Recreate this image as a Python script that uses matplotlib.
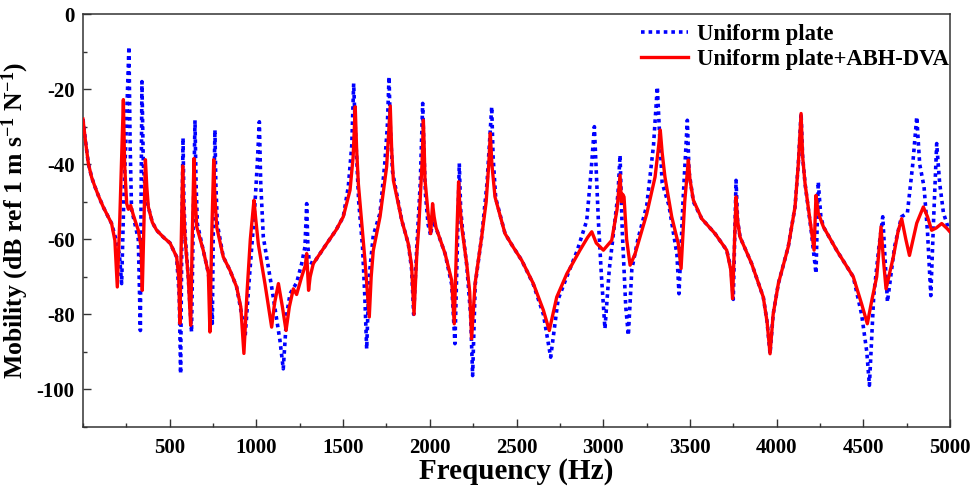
import matplotlib
matplotlib.use("Agg")
import matplotlib.pyplot as plt
from matplotlib.ticker import MultipleLocator

plt.rcParams['font.family'] = ['Liberation Serif', 'DejaVu Serif']
plt.rcParams['font.weight'] = 'bold'
plt.rcParams['mathtext.default'] = 'regular'
plt.rcParams['axes.unicode_minus'] = False

# Uniform plate (blue dotted)
uni_f = [0, 15, 31, 50, 69, 90, 117, 140, 165, 190, 210, 223, 235, 250, 265, 272, 280, 300, 319, 331, 335, 340, 348, 360, 377,
         400, 425, 465, 502, 540, 555, 563, 570, 577, 582, 590, 607, 626, 636, 646, 652, 660, 694, 723, 738, 746, 752, 761, 766,
         775, 809, 848, 886, 915, 935, 960, 990, 1005, 1017, 1025, 1040, 1088, 1136, 1155, 1175, 1194, 1232, 1261, 1280, 1290,
         1297, 1305, 1328, 1405, 1460, 1501, 1530, 1550, 1561, 1570, 1590, 1612, 1625, 1636, 1650, 1674, 1713, 1740, 1755, 1765,
         1772, 1785, 1838, 1876, 1895, 1907, 1925, 1945, 1959, 1966, 1975, 1990, 2005, 2016, 2036, 2088, 2126, 2145, 2160, 2170,
         2178, 2190, 2213, 2235, 2247, 2262, 2299, 2330, 2357, 2365, 2380, 2434, 2480, 2530, 2597, 2655, 2697, 2740, 2790, 2850,
         2905, 2930, 2949, 2960, 2972, 2990, 3010, 3035, 3060, 3085, 3097, 3110, 3130, 3145, 3165, 3200, 3251, 3290, 3312, 3325,
         3340, 3379, 3400, 3425, 3437, 3460, 3485, 3495, 3520, 3568, 3645, 3712, 3738, 3750, 3766, 3775, 3789, 3856, 3923, 3945,
         3962, 3980, 4010, 4067, 4106, 4125, 4141, 4150, 4164, 4200, 4227, 4240, 4255, 4270, 4346, 4442, 4490, 4520, 4535, 4560,
         4590, 4612, 4625, 4639, 4680, 4720, 4754, 4785, 4808, 4825, 4850, 4870, 4889, 4905, 4923, 4940, 4962, 4990, 5000]
uni_db = [-28, -34, -39.8, -43.5, -46, -48.5, -51.4, -53.5, -55.8, -60, -64, -71.8, -50, -30, -8.7, -35, -52, -56, -60, -84.3, -50, -18, -40, -48, -51.4,
          -55.5, -57.6, -59.5, -61, -64.7, -75, -95.8, -60, -33, -50, -59.4, -70, -84.7, -55, -28.3, -45, -56, -63, -69, -75, -82.4, -55, -30.9, -45,
          -56, -64.7, -68.3, -72.7, -80, -86, -70, -52, -40, -28.7, -45, -59.4, -72.7, -87, -94.5, -80, -74.5, -71.6, -66.5, -62, -50.5,
          -62, -66, -66.5, -61.2, -57.5, -54, -46, -35, -18.5, -30, -50, -62, -75, -89.2, -70, -59, -53, -40, -30, -16.7,
          -30, -42, -54.9, -61.2, -68, -80, -62, -45, -23.8, -36, -48, -56, -59, -55, -57, -63.8, -72, -87.8, -60, -39.8,
          -52, -58, -67, -80, -96.3, -72, -59.4, -45, -24.7, -38, -49, -58.5, -62, -65.6, -72, -80, -91.4, -76, -70, -63,
          -55, -42, -30, -42, -55, -70, -83.8, -68, -58, -48, -37.6, -58, -78, -85.6, -68, -60, -51, -35, -19.4, -32,
          -45, -51, -57, -64, -74.5, -50, -28.3, -42, -50, -54.5, -58.5, -62.9, -68, -76, -44.3, -55, -59.4, -66.5, -75.4, -82,
          -90.5, -80, -71.8, -62, -51.4, -40, -26.5, -38, -45.2, -58, -69.1, -44.7, -54, -56.7, -62.9, -70, -80, -90, -98.9, -75,
          -62, -54, -65, -76.7, -62, -54, -53, -40, -27.4, -40, -46, -58, -75, -55, -34.5, -45, -53, -57, -58]

# Uniform plate + ABH-DVA (red solid)
abh_f = [0, 15, 31, 50, 69, 90, 117, 140, 165, 184, 198, 212, 225, 233, 240, 252, 262, 275, 290, 319, 335, 342, 352, 360, 368,
         377, 400, 425, 465, 502, 540, 552, 559, 567, 575, 580, 588, 607, 621, 630, 640, 646, 656, 694, 723, 732, 742, 754, 760,
         771, 809, 848, 886, 910, 928, 945, 965, 986, 995, 1011, 1050, 1088, 1105, 1127, 1150, 1171, 1190, 1213, 1232, 1261,
         1282, 1290, 1301, 1310, 1328, 1405, 1460, 1501, 1540, 1558, 1570, 1578, 1588, 1626, 1651, 1662, 1674, 1713, 1751, 1765,
         1772, 1780, 1790, 1838, 1876, 1895, 1909, 1925, 1936, 1955, 1963, 1968, 1972, 1990, 2005, 2016, 2025, 2036, 2088, 2126,
         2141, 2155, 2166, 2172, 2184, 2213, 2230, 2241, 2261, 2299, 2325, 2340, 2349, 2358, 2376, 2434, 2480, 2530, 2597, 2655,
         2689, 2732, 2790, 2866, 2910, 2934, 2960, 3001, 3049, 3080, 3097, 3105, 3112, 3120, 3135, 3155, 3183, 3251, 3299, 3320,
         3329, 3340, 3356, 3395, 3433, 3449, 3470, 3491, 3500, 3520, 3568, 3645, 3712, 3735, 3746, 3766, 3775, 3789, 3856, 3923,
         3945, 3962, 3980, 4010, 4067, 4106, 4125, 4141, 4150, 4164, 4193, 4216, 4227, 4240, 4270, 4346, 4442, 4490, 4523, 4550,
         4577, 4602, 4615, 4631, 4673, 4700, 4721, 4745, 4766, 4808, 4846, 4870, 4894, 4920, 4952, 4980, 5000]
abh_db = [-28, -34, -39.8, -43.5, -46, -48.5, -51.4, -53.5, -55.8, -60.3, -72.7, -55, -35, -22.8, -40, -50.5, -52, -51, -53.5, -57.6, -62, -73.6, -55, -38.8, -46,
          -51.4, -55.5, -57.6, -59.5, -61, -64.7, -70, -82.4, -60, -40.5, -50, -59.4, -70, -82.9, -60, -38.5, -48, -56.7, -63, -69, -84.7, -60, -38.8, -48,
          -56.7, -64.7, -68.3, -72.7, -78, -90.4, -75, -60, -49.6, -54, -61.2, -72, -83.4, -77, -71.8, -78, -84.3, -78, -73.2, -74.7, -70,
          -67, -63.8, -73.6, -70, -66.5, -61.2, -57.5, -54, -46.9, -38, -24.7, -36, -45.2, -65.6, -80.7, -70, -63, -54, -40.7, -30,
          -24.5, -36, -44.3, -54.9, -61.2, -67, -80, -64, -57, -40, -28.3, -36, -44, -53, -58.5, -50.5, -54, -56.9, -63.8, -70.9,
          -82.5, -60, -44.7, -50, -56.7, -66.6, -74, -86.5, -71.8, -59.4, -50, -40, -31.8, -40, -48.7, -58.5, -62, -65.6, -71.8, -78.9,
          -84.3, -75.4, -69.2, -62.9, -59.5, -58, -61, -62.9, -60.3, -52, -42.9, -50, -48, -48.7, -60, -66.9, -64, -53.2, -43.4, -35,
          -30.9, -37, -43.4, -54, -61.2, -67.8, -50, -38.9, -44, -49.6, -54.5, -58.5, -62.9, -68, -75.8, -48.7, -55, -59.4, -66.5, -75.4,
          -82, -90.5, -80, -71.8, -62, -51.4, -40, -26.5, -38, -45.2, -55, -62.9, -48.3, -53, -56.7, -62.9, -70, -77.2, -82.5, -76,
          -70, -56.7, -65, -73.2, -64.7, -58, -54.5, -60, -64.3, -55.7, -51.4, -54, -57.6, -57, -55.8, -57, -58]

x_ticks = [500, 1000, 1500, 2000, 2500, 3000, 3500, 4000, 4500, 5000]
y_ticks = [0, -20, -40, -60, -80, -100]

fig = plt.figure(figsize=(9.75, 4.92), dpi=100)
ax = fig.add_axes([0.0851, 0.1321, 0.8893, 0.8394])

ax.plot(uni_f, uni_db, color='#0000ff', lw=2.6, linestyle=(0, (1, 1.1)), label='Uniform plate', zorder=2)
ax.plot(abh_f, abh_db, color='#ff0000', lw=2.4, solid_joinstyle='round', label='Uniform plate+ABH-DVA', zorder=3)

ax.set_xlim(0, 5000)
ax.set_ylim(-110, 0)
ax.set_xticks(x_ticks)
ax.set_yticks(y_ticks)
ax.xaxis.set_minor_locator(MultipleLocator(250))
ax.yaxis.set_minor_locator(MultipleLocator(10))
ax.tick_params(which='both', direction='in', top=False, right=False, labelsize=15, width=1.0, color='#333333')
ax.tick_params(axis='x', pad=8)
ax.tick_params(axis='y', pad=6)
ax.tick_params(which='major', length=6)
ax.tick_params(which='minor', length=3)
for lab in ax.get_xticklabels() + ax.get_yticklabels():
    lab.set_fontweight('bold')
for sp in ax.spines.values():
    sp.set_linewidth(1.1)
    sp.set_color('#333333')

ax.set_xlabel('Frequency (Hz)', fontsize=21, fontweight='bold', labelpad=0)
ax.set_ylabel('Mobility (dB ref 1 m s$^{-1}$ N$^{-1}$)', fontsize=18.5, fontweight='bold', labelpad=4)

leg = ax.legend(loc='upper right', bbox_to_anchor=(1.012, 1.004), frameon=False, handlelength=2.1, borderaxespad=0.1,
                labelspacing=0.2, handletextpad=0.4, prop={'weight': 'bold', 'size': 16.3})

fig.savefig('out.png', dpi=100)
